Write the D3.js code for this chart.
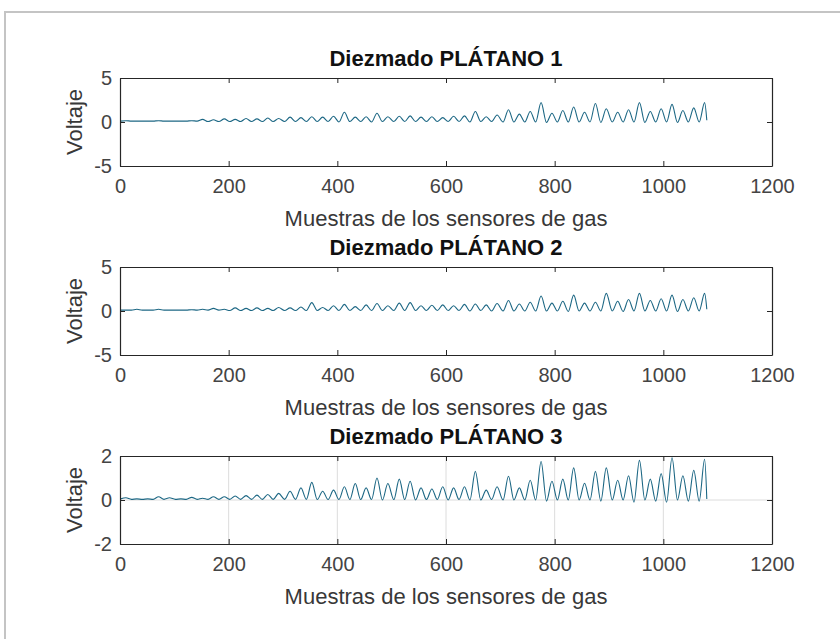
<!DOCTYPE html>
<html>
<head>
<meta charset="utf-8">
<script src="https://cdn.jsdelivr.net/npm/d3@7"></script>
<style>
  html, body { margin: 0; padding: 0; background: #ffffff; }
  svg { display: block; }
  text { font-family: "Liberation Sans", Arial, Helvetica, sans-serif; }
</style>
</head>
<body>
<svg id="fig" width="840" height="639"></svg>
<script>
// Sample index of every peak and every trough of the decimated sensor signals
const peakSamples = [11, 31, 51, 71, 91, 112, 132, 152, 172, 192, 212, 232, 252, 272, 292, 313, 333, 353,
  373, 393, 413, 433, 453, 473, 493, 514, 534, 554, 574, 594, 614, 634, 654, 674, 694, 715,
  735, 755, 775, 795, 815, 835, 855, 875, 895, 916, 936, 956, 976, 996, 1016, 1036, 1056, 1076];
const troughSamples = [1, 21, 41, 61, 81, 102, 122, 142, 162, 182, 202, 222, 242, 262, 282, 303, 323, 343,
  363, 383, 403, 423, 443, 463, 483, 504, 524, 544, 564, 584, 604, 624, 644, 664, 684, 705,
  725, 745, 765, 785, 805, 825, 845, 865, 885, 906, 926, 946, 966, 986, 1006, 1026, 1046, 1066, 1080];

// PLÁTANO 1
const peaks1 = [0.15, 0.1, 0.1, 0.15, 0.1, 0.1, 0.15, 0.3, 0.25, 0.35, 0.3, 0.4, 0.35, 0.45, 0.4, 0.55, 0.5, 0.6,
  0.55, 0.65, 1.1, 0.55, 0.6, 1.0, 0.6, 0.65, 0.7, 0.55, 0.6, 0.5, 0.65, 0.7, 1.2, 0.6, 0.8, 1.4,
  0.9, 1.2, 2.2, 1.0, 1.3, 1.7, 1.1, 2.1, 1.5, 1.1, 1.4, 2.2, 1.2, 1.5, 2.0, 1.3, 1.6, 2.2];
const troughs1 = [0.1, 0.1, 0.1, 0.1, 0.1, 0.1, 0.1, 0.1, 0.05, 0.05, 0.05, 0.05, 0.05, 0.05, 0.05, 0.05, 0.05, 0.05,
  0.05, 0.05, 0.0, 0.05, 0.05, 0.0, 0.05, 0.05, 0.05, 0.05, 0.05, 0.05, 0.05, 0.05, 0.0, 0.05, 0.05, 0.0,
  0.0, 0.0, 0.0, -0.05, 0.0, 0.0, 0.0, 0.0, -0.05, 0.0, 0.0, 0.0, -0.05, 0.0, 0.0, -0.05, 0.0, 0.0, 0.2];

// PLÁTANO 2
const peaks2 = [0.1, 0.2, 0.1, 0.2, 0.1, 0.1, 0.15, 0.2, 0.3, 0.2, 0.35, 0.3, 0.35, 0.3, 0.4, 0.35, 0.45, 0.95,
  0.4, 0.6, 0.75, 0.5, 0.7, 0.85, 0.6, 0.9, 0.95, 0.6, 0.65, 0.7, 0.6, 0.75, 0.8, 0.7, 0.85, 1.2,
  0.8, 1.0, 1.7, 0.9, 1.1, 1.8, 0.9, 1.0, 2.0, 1.1, 1.3, 2.0, 1.2, 1.4, 1.8, 1.3, 1.5, 2.0];
const troughs2 = [0.1, 0.1, 0.1, 0.1, 0.1, 0.1, 0.1, 0.1, 0.1, 0.1, 0.05, 0.05, 0.05, 0.05, 0.05, 0.05, 0.05, 0.05,
  0.05, 0.05, 0.05, 0.05, 0.05, 0.05, 0.05, 0.05, 0.05, 0.05, 0.05, 0.05, 0.05, 0.05, 0.0, 0.05, 0.0, 0.0,
  0.0, 0.0, 0.0, 0.0, 0.0, -0.05, 0.0, 0.0, 0.0, 0.0, -0.05, 0.0, 0.0, 0.0, 0.0, -0.05, 0.0, 0.0, 0.2];

// PLÁTANO 3
const peaks3 = [0.1, 0.05, 0.05, 0.15, 0.1, 0.05, 0.12, 0.08, 0.15, 0.15, 0.18, 0.2, 0.22, 0.25, 0.3, 0.4, 0.55, 0.8,
  0.4, 0.45, 0.6, 0.75, 0.55, 1.0, 0.75, 0.95, 0.85, 0.55, 0.5, 0.6, 0.55, 0.6, 1.3, 0.45, 0.6, 1.08,
  0.55, 0.9, 1.75, 0.85, 0.95, 1.46, 0.76, 1.3, 1.46, 0.9, 1.1, 1.8, 0.95, 1.2, 1.92, 1.1, 1.35, 1.85];
const troughs3 = [0.05, 0.03, 0.03, 0.03, 0.03, 0.03, 0.03, 0.03, 0.03, 0.03, 0.03, 0.03, 0.03, 0.03, 0.03, 0.03, 0.03, 0.03,
  0.02, 0.02, 0.02, 0.02, 0.02, 0.02, 0.0, 0.02, 0.02, 0.0, 0.02, 0.02, 0.0, 0.02, 0.0, 0.0, 0.02, 0.0,
  0.0, 0.0, 0.0, -0.05, 0.0, 0.0, 0.0, 0.0, -0.05, 0.0, 0.0, -0.1, 0.0, -0.05, -0.1, 0.0, -0.05, -0.05, 0.05];

const titles = ["Diezmado PLÁTANO 1", "Diezmado PLÁTANO 2", "Diezmado PLÁTANO 3"];
const xTicks = [0, 200, 400, 600, 800, 1000, 1200];
const yTicks1 = [-5, 0, 5];
const yTicks2 = [-5, 0, 5];
const yTicks3 = [-2, 0, 2];
const xLabel = "Muestras de los sensores de gas";
const yLabel = "Voltaje";

const panels = [
  { title: titles[0], peaks: peaks1, troughs: troughs1, yTicks: yTicks1, top: 78, grid: false },
  { title: titles[1], peaks: peaks2, troughs: troughs2, yTicks: yTicks2, top: 267, grid: false },
  { title: titles[2], peaks: peaks3, troughs: troughs3, yTicks: yTicks3, top: 456, grid: true }
];

const svg = d3.select("#fig");
const W = 840, H = 639;
const left = 120, right = 772, plotH = 88;
const axisColor = "#262626";
const lineColor = "#1c6784";
const fmt = d => String(d);   // plain integers with an ASCII hyphen for negatives

svg.append("rect").attr("width", W).attr("height", H).attr("fill", "#ffffff");
// outer frame of the figure window
svg.append("rect")
  .attr("x", 5).attr("y", 12).attr("width", 900).attr("height", 700)
  .attr("fill", "none").attr("stroke", "#c4c4c4").attr("stroke-width", 2);

panels.forEach(p => {
  const top = p.top, bottom = top + plotH;
  const x = d3.scaleLinear().domain([0, 1200]).range([left, right]);
  const y = d3.scaleLinear().domain([p.yTicks[0], p.yTicks[p.yTicks.length - 1]]).range([bottom, top]);
  const g = svg.append("g");

  // grid
  if (p.grid) {
    g.selectAll("line.gx").data(xTicks.slice(1, -1)).join("line")
      .attr("x1", d => x(d)).attr("x2", d => x(d)).attr("y1", top).attr("y2", bottom)
      .attr("stroke", "#dcdcdc").attr("stroke-width", 1);
    g.selectAll("line.gy").data(p.yTicks.slice(1, -1)).join("line")
      .attr("x1", left).attr("x2", right).attr("y1", d => y(d)).attr("y2", d => y(d))
      .attr("stroke", "#dcdcdc").attr("stroke-width", 1);
  }

  // signal: troughs and peaks interleaved
  const pts = [];
  p.troughs.forEach((v, i) => {
    pts.push([troughSamples[i], v]);
    if (i < p.peaks.length) pts.push([peakSamples[i], p.peaks[i]]);
  });
  const line = d3.line().x(d => x(d[0])).y(d => y(d[1])).curve(d3.curveMonotoneX);
  g.append("path").datum(pts).attr("d", line)
    .attr("fill", "none").attr("stroke", lineColor).attr("stroke-width", 1.1);

  // axes (box with inward ticks on all sides)
  const tick = 5;
  const xb = d3.axisBottom(x).tickValues(xTicks).tickFormat(fmt).tickSizeInner(-tick).tickSizeOuter(0).tickPadding(13);
  const xt = d3.axisTop(x).tickValues(xTicks).tickSizeInner(-tick).tickSizeOuter(0).tickFormat("");
  const yl = d3.axisLeft(y).tickValues(p.yTicks).tickFormat(fmt).tickSizeInner(-tick).tickSizeOuter(0).tickPadding(8);
  const yr = d3.axisRight(y).tickValues(p.yTicks).tickSizeInner(-tick).tickSizeOuter(0).tickFormat("");

  const gxb = g.append("g").attr("transform", `translate(0,${bottom})`).call(xb);
  const gxt = g.append("g").attr("transform", `translate(0,${top})`).call(xt);
  const gyl = g.append("g").attr("transform", `translate(${left},0)`).call(yl);
  const gyr = g.append("g").attr("transform", `translate(${right},0)`).call(yr);
  [gxb, gxt, gyl, gyr].forEach(a => {
    a.select(".domain").attr("stroke", axisColor).attr("stroke-width", 1.2);
    a.selectAll(".tick line").attr("stroke", axisColor).attr("stroke-width", 1);
    a.selectAll(".tick text").attr("fill", "#444444").style("font-size", "20px")
      .style("font-family", "'Liberation Sans', Arial, sans-serif");
  });
  gxb.selectAll(".tick text").attr("dy", "0.71em");

  // title
  svg.append("text").attr("x", (left + right) / 2).attr("y", top - 12)
    .attr("text-anchor", "middle").attr("font-weight", "bold").attr("font-size", 22)
    .attr("fill", "#111").text(p.title);
  // x label
  svg.append("text").attr("x", (left + right) / 2).attr("y", bottom + 60)
    .attr("text-anchor", "middle").attr("font-size", 22).attr("fill", "#383838").text(xLabel);
  // y label
  svg.append("text").attr("transform", `translate(82,${(top + bottom) / 2}) rotate(-90)`)
    .attr("text-anchor", "middle").attr("font-size", 22).attr("fill", "#383838").text(yLabel);
});
</script>
</body>
</html>
